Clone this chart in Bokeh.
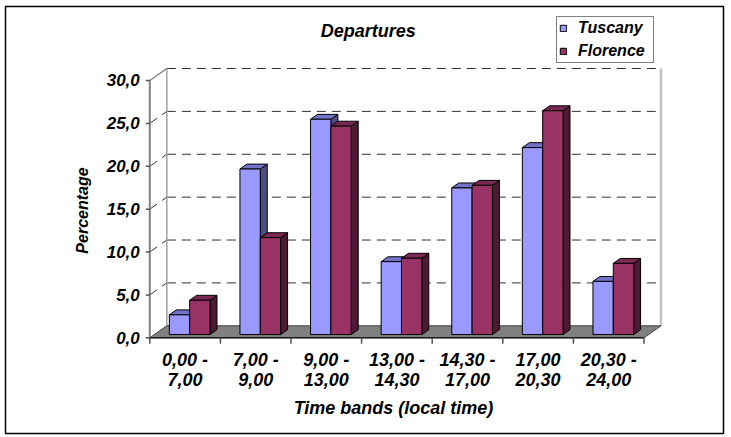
from bokeh.plotting import figure
from bokeh.models import Range1d, Legend, LegendItem, Label
from bokeh.embed import file_html
from bokeh.resources import INLINE
from bokeh.core.properties import value

# ---------------- data ----------------
categories = ["0,00 -\n7,00", "7,00 -\n9,00", "9,00 -\n13,00", "13,00 -\n14,30",
              "14,30 -\n17,00", "17,00\n20,30", "20,30 -\n24,00"]
tuscany = [2.3, 19.3, 25.1, 8.5, 17.1, 21.8, 6.2]
florence = [4.0, 11.3, 24.3, 8.9, 17.4, 26.1, 8.3]
series_names = ["Tuscany", "Florence"]
y_ticks = [0, 5, 10, 15, 20, 25, 30]
y_tick_labels = ["0,0", "5,0", "10,0", "15,0", "20,0", "25,0", "30,0"]
title_text = "Departures"
x_title = "Time bands (local time)"
y_title = "Percentage"

# ---------------- layout (pixels) ----------------
W, H = 726, 437
BL, BT, BR, BB = 5, 6, 3, 4              # frame borders -> frame spans x 5..723, y 6..433
AX_LEFT, AX_BOTTOM = 149.3, 337.3        # page position of the front axes origin
CAT_PX, UNIT_PX = 70.6, 8.577            # px per category / per percentage point
FL, FT = BL, BT
FW, FH = W - BL - BR, H - BT - BB


def px2x(px):
    return (px - AX_LEFT) / CAT_PX


def px2y(py):
    return (AX_BOTTOM - py) / UNIT_PX


n = len(categories)
ymax = y_ticks[-1]
DX, DY = 17 / CAT_PX, 12 / UNIT_PX       # depth of the 3D box
F_FRONT, F_DEPTH = 0.27, 0.41            # bar plane / bar depth as share of the box depth
GAP, BW = 0.212, 0.288                   # category gap, bar width (category units)

FONT = "Liberation Sans"
STYLE = "bold italic"

p = figure(width=W, height=H, output_backend="svg", toolbar_location=None,
           x_axis_type=None, y_axis_type=None,
           min_border_left=BL, min_border_top=BT, min_border_right=BR, min_border_bottom=BB,
           x_range=Range1d(px2x(FL), px2x(FL + FW)),
           y_range=Range1d(px2y(FT + FH), px2y(FT)))
p.outline_line_color = "black"
p.outline_line_width = 1.5
p.background_fill_color = "white"
p.border_fill_color = "white"

dash = "9 6"
# back wall gridlines
grid_v = [v for v in y_ticks if v > 0]
p.segment(x0=[DX] * len(grid_v), y0=[v + DY for v in grid_v],
          x1=[n + DX] * len(grid_v), y1=[v + DY for v in grid_v],
          line_color="#303030", line_width=1, line_dash=dash)
# side wall diagonals
side_v = [v for v in y_ticks if 0 < v < ymax]
p.segment(x0=[0] * len(side_v), y0=side_v, x1=[DX] * len(side_v), y1=[v + DY for v in side_v],
          line_color="#303030", line_width=1, line_dash=dash)
p.segment(x0=[0], y0=[ymax], x1=[DX], y1=[ymax + DY], line_color="#808080", line_width=1.5)
# back wall edges
p.segment(x0=[DX], y0=[DY], x1=[DX], y1=[ymax + DY], line_color="#a0a0a0", line_width=1.5)
p.segment(x0=[n + DX], y0=[DY], x1=[n + DX], y1=[ymax + DY], line_color="#c0c0c0", line_width=2.5)

# floor
p.patch(x=[0, n, n + DX, DX], y=[0, 0, DY, DY], fill_color="#808080",
        line_color="#404040", line_width=1)

# axes lines and ticks
p.segment(x0=[0], y0=[0], x1=[0], y1=[ymax], line_color="#808080", line_width=2)
p.segment(x0=[0], y0=[0], x1=[n], y1=[0], line_color="#202020", line_width=1.5)
tl = 4 / CAT_PX
p.segment(x0=[-tl] * len(y_ticks), y0=y_ticks, x1=[0] * len(y_ticks), y1=y_ticks,
          line_color="#505050", line_width=1.5)
xt = list(range(n + 1))
tly = 6 / UNIT_PX
p.segment(x0=xt, y0=[0] * len(xt), x1=xt, y1=[-tly] * len(xt), line_color="#505050", line_width=1.5)

# bars
fx, fy = F_FRONT * DX, F_FRONT * DY
bdx, bdy = F_DEPTH * DX, F_DEPTH * DY
styles = [("#9999ff", "#7373c8", "#4d4d80"), ("#993366", "#7a2952", "#4d1a33")]
front_renderers = []
for s, vals in enumerate([tuscany, florence]):
    front_c, top_c, side_c = styles[s]
    lefts = [i + GAP + s * BW + fx for i in range(n)]
    rights = [l + BW for l in lefts]
    tops = [fy + v for v in vals]
    side_xs = [[r, r + bdx, r + bdx, r] for r in rights]
    side_ys = [[fy, fy + bdy, t + bdy, t] for t in tops]
    p.patches(xs=side_xs, ys=side_ys, fill_color=side_c, line_color="black", line_width=1)
    top_xs = [[l, r, r + bdx, l + bdx] for l, r in zip(lefts, rights)]
    top_ys = [[t, t, t + bdy, t + bdy] for t in tops]
    p.patches(xs=top_xs, ys=top_ys, fill_color=top_c, line_color="black", line_width=1)
    r = p.quad(left=lefts, right=rights, bottom=[fy] * n, top=tops,
               fill_color=front_c, line_color="black", line_width=1)
    front_renderers.append(r)

# tick labels
p.text(x=[0] * len(y_ticks), y=y_ticks, text=y_tick_labels, x_offset=-10,
       text_align="right", text_baseline="middle", text_font=value(FONT),
       text_font_style=STYLE, text_font_size="17px", text_color="black")
line1 = [c.split("\n")[0] for c in categories]
line2 = [c.split("\n")[1] for c in categories]
centers = [i + 0.5 for i in range(n)]
p.text(x=centers, y=[0] * n, text=line1, y_offset=22, text_align="center",
       text_baseline="middle", text_font=value(FONT), text_font_style=STYLE,
       text_font_size="18px", text_color="black")
p.text(x=centers, y=[0] * n, text=line2, y_offset=42, text_align="center",
       text_baseline="middle", text_font=value(FONT), text_font_style=STYLE,
       text_font_size="18px", text_color="black")

# titles
p.add_layout(Label(x=px2x(367.8), y=px2y(30), text=title_text, text_align="center",
                   text_baseline="middle", text_font=FONT, text_font_style=STYLE,
                   text_font_size="18px", text_color="black"))
p.add_layout(Label(x=px2x(393), y=px2y(407), text=x_title, text_align="center",
                   text_baseline="middle", text_font=FONT, text_font_style=STYLE,
                   text_font_size="18px", text_color="black"))
p.add_layout(Label(x=px2x(81.6), y=px2y(210), text=y_title, text_align="center",
                   text_baseline="middle", angle=90, angle_units="deg", text_font=FONT,
                   text_font_style=STYLE, text_font_size="16px", text_color="black"))

# legend
legend = Legend(items=[LegendItem(label=series_names[i], renderers=[front_renderers[i]])
                       for i in range(2)],
                location=(556 - FL, FT + FH - 63))
legend.border_line_color = "black"
legend.border_line_width = 1
legend.background_fill_color = "white"
legend.background_fill_alpha = 1
legend.label_text_font = FONT
legend.label_text_font_style = STYLE
legend.label_text_font_size = "16px"
legend.label_text_color = "black"
legend.glyph_width = 8
legend.glyph_height = 8
legend.label_standoff = 11
legend.label_height = 17
legend.label_width = 73
legend.spacing = 5
legend.padding = 2
legend.margin = 0
p.add_layout(legend, "center")

open("out.html", "w").write(file_html(p, INLINE))
